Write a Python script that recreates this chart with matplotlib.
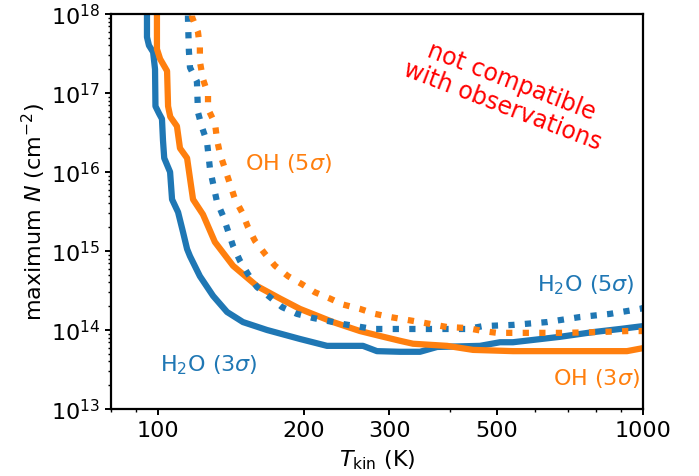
import numpy as np
import matplotlib
matplotlib.use('Agg')
import matplotlib.pyplot as plt
import matplotlib.ticker as ticker

# maximum column density vs kinetic temperature
h2o_3s_T = [94.9, 94.9, 95.8, 97.7, 98.6, 98.8, 100.5, 101.9, 102.4, 103.0, 105.9, 106.9, 110.0, 112.6, 114.8, 116.4,
            122.0, 129.9, 138.8, 149.7, 167.8, 196.2, 223.1, 264.6, 282.8, 315.5, 346.9,
            376.2, 461.3, 507.2, 539.5, 674.5, 788.8, 896.6, 1000]
h2o_3s_N = [2e18, 5.1e17, 4.0e17, 3.3e17, 2.0e17, 6.8e16, 5.5e16, 4.7e16, 2.5e16, 1.5e16, 1.0e16, 4.5e15, 3.1e15, 1.74e15, 1.06e15, 8.6e14,
            4.8e14, 2.7e14, 1.69e14, 1.26e14, 1.0e14, 7.7e13, 6.3e13, 6.3e13, 5.4e13, 5.3e13, 5.3e13,
            6.1e13, 6.3e13, 7.0e13, 7.0e13, 8.2e13, 9.4e13, 1.03e14, 1.12e14]

oh_3s_T = [99.5, 99.5, 101.0, 104.4, 104.9, 106.0, 109.4, 111.0, 114.8, 116.5, 118.1, 123.8, 131.0, 142.8, 160.0,
           178.5, 196.2, 229.6, 260.9, 286.9, 315.5, 335.6, 394.5, 446.2, 539.5, 741.6, 926.8, 1000]
oh_3s_N = [2e18, 3.6e17, 2.7e17, 1.9e17, 6.8e16, 5.0e16, 3.8e16, 2.0e16, 1.5e16, 8.0e15, 4.5e15, 2.9e15, 1.3e15, 6.5e14, 3.6e14,
           2.5e14, 1.85e14, 1.26e14, 9.7e13, 8.4e13, 7.3e13, 6.7e13, 6.3e13, 5.6e13, 5.4e13, 5.4e13, 5.4e13, 5.9e13]

h2o_5s_T = [115.3, 115.3, 115.8, 116.4, 120.3, 120.9, 123.2, 126.2, 128.0, 132.3, 136.1, 142.8,
            147.6, 153.3, 160.0, 170.2, 180.2, 193.4, 208.7, 240.7, 277.5, 300.9, 376.2, 433.7,
            467.9, 539.5, 634.1, 741.6, 855.1, 985.8, 1000]
h2o_5s_N = [2e18, 8.6e17, 3.4e17, 2.1e17, 1.4e17, 5.7e16, 3.7e16, 2.4e16, 1.09e16, 4.2e15, 2.8e15, 1.16e15,
            7.5e14, 5.1e14, 3.5e14, 2.6e14, 1.95e14, 1.6e14, 1.42e14, 1.19e14, 1.03e14, 1.03e14, 1.03e14, 1.03e14,
            1.12e14, 1.16e14, 1.26e14, 1.46e14, 1.6e14, 1.85e14, 1.9e14]

oh_5s_T = [117.5, 117.5, 120.9, 122.0, 122.0, 123.8, 126.8, 126.8, 131.1, 132.3, 134.2, 137.5,
           140.8, 144.2, 149.0, 153.3, 158.5, 166.2, 174.3, 185.4, 198.1, 210.7, 226.3, 240.7,
           260.9, 280.2, 300.9, 346.9, 394.5, 433.7, 467.9, 500.0, 584.8, 684.1, 804.0, 926.8, 1000]
oh_5s_N = [2e18, 9.2e17, 5.9e17, 3.8e17, 2.5e17, 1.5e17, 9.7e16, 6.3e16, 4.1e16, 2.6e16, 1.7e16, 1.09e16,
           7.0e15, 4.5e15, 3.1e15, 2.0e15, 1.34e15, 9.2e14, 6.5e14, 4.8e14, 3.8e14, 3.0e14, 2.5e14, 2.1e14,
           1.85e14, 1.6e14, 1.46e14, 1.26e14, 1.09e14, 1.06e14, 9.7e13, 9.2e13, 9.2e13, 9.2e13, 9.4e13, 9.7e13, 9.7e13]

xticks = [100, 200, 300, 500, 1000]

plt.rcParams['font.size'] = 16

fig = plt.figure(figsize=(6.99, 4.77), dpi=100)
ax = fig.add_axes([111 / 699, 67 / 477, 532 / 699, 395 / 477])

lw = 4.5
ax.plot(h2o_3s_T, h2o_3s_N, color='tab:blue', lw=lw)
ax.plot(oh_3s_T, oh_3s_N, color='tab:orange', lw=lw)
ax.plot(h2o_5s_T, h2o_5s_N, color='tab:blue', lw=lw, ls=':')
ax.plot(oh_5s_T, oh_5s_N, color='tab:orange', lw=lw, ls=':')

ax.set_xscale('log')
ax.set_yscale('log')
ax.set_xlim(80, 1000)
ax.set_ylim(1e13, 1e18)

ax.xaxis.set_major_locator(ticker.FixedLocator(xticks))
ax.xaxis.set_major_formatter(ticker.FixedFormatter([str(t) for t in xticks]))
ax.xaxis.set_minor_formatter(ticker.NullFormatter())

for s in ax.spines.values():
    s.set_linewidth(1.6)
ax.tick_params(which='major', width=1.4, length=4.5)
ax.tick_params(which='minor', width=1.0, length=2.5)

ax.set_xlabel(r'$T_{\rm kin}$ (K)', labelpad=5)
ax.set_ylabel(r'maximum $N$ (cm$^{-2}$)', labelpad=2)

ax.text(0.252, 0.625, r'OH (5$\sigma$)', color='tab:orange', transform=ax.transAxes,
        ha='left', va='center')
ax.text(0.985, 0.316, r'H$_2$O (5$\sigma$)', color='tab:blue', transform=ax.transAxes,
        ha='right', va='center')
ax.text(0.092, 0.114, r'H$_2$O (3$\sigma$)', color='tab:blue', transform=ax.transAxes,
        ha='left', va='center')
ax.text(0.994, 0.081, r'OH (3$\sigma$)', color='tab:orange', transform=ax.transAxes,
        ha='right', va='center')
ax.text(0.744, 0.80, 'not compatible\nwith observations', color='red', transform=ax.transAxes,
        ha='center', va='center', rotation=-21, multialignment='center', fontsize=17,
        linespacing=1.1)

fig.savefig('out.png', dpi=100)
